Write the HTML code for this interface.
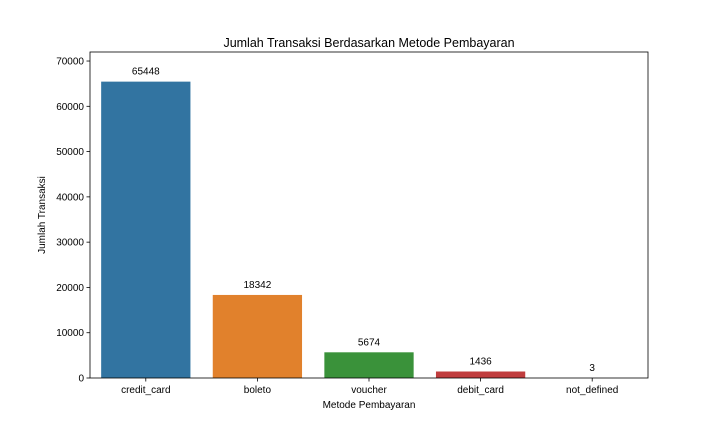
<!DOCTYPE html>
<html><head><meta charset="utf-8"><style>
html,body{margin:0;padding:0;background:#fff;}
svg{display:block;font-family:"Liberation Sans","DejaVu Sans",sans-serif;}
</style></head><body>
<svg id="chart" width="720" height="432" viewBox="0 0 720 432">
<text x="369" y="47" font-size="12.5" text-anchor="middle">Jumlah Transaksi Berdasarkan Metode Pembayaran</text>
<g id="plot"></g>
<text x="369" y="408" font-size="10" text-anchor="middle">Metode Pembayaran</text>
<text transform="translate(45,215) rotate(-90)" font-size="10" text-anchor="middle">Jumlah Transaksi</text>
</svg>
<script>
const categories = ["credit_card","boleto","voucher","debit_card","not_defined"];
const values = [65448,18342,5674,1436,3];
const colors = ["#3274a1","#e1812c","#3a923a","#c03d3e","#9372b2"];
const yTicks = [0,10000,20000,30000,40000,50000,60000,70000];

const L=90,R=648,T=52,B=378;
const yMax = Math.max(...values)*1.1;
const y = v => B - v/yMax*(B-T);
const step = (R-L)/categories.length;
const xc = i => L + step*(i+0.5);
const NS="http://www.w3.org/2000/svg";
const g=document.getElementById('plot');
function mk(tag,attrs){const e=document.createElementNS(NS,tag);for(const k in attrs)e.setAttribute(k,attrs[k]);return e;}

categories.forEach((c,i)=>{
  const w=step*0.8;
  const r=mk('rect',{x:xc(i)-w/2,y:y(values[i]),width:w,height:B-y(values[i]),fill:colors[i]});
  
  
  g.appendChild(r);
  const t=mk('text',{x:xc(i),y:y(values[i])-7,'font-size':10,'text-anchor':'middle'});
  t.textContent=values[i];
  
  
  g.appendChild(t);
  g.appendChild(mk('line',{x1:xc(i),x2:xc(i),y1:B,y2:B+3.5,stroke:'#000','stroke-width':0.8}));
  const xl=mk('text',{x:xc(i),y:B+15,'font-size':10,'text-anchor':'middle'});
  xl.textContent=c;
  
  
  g.appendChild(xl);
});
yTicks.forEach(v=>{
  g.appendChild(mk('line',{x1:L-3.5,x2:L,y1:y(v),y2:y(v),stroke:'#000','stroke-width':0.8}));
  const t=mk('text',{x:L-6,y:y(v)+3.5,'font-size':10,'text-anchor':'end'});
  t.textContent=v;
  
  
  g.appendChild(t);
});
const frame=mk('rect',{x:L,y:T,width:R-L,height:B-T,fill:'none',stroke:'#000','stroke-width':0.8});


g.appendChild(frame);
</script>
</body></html>
